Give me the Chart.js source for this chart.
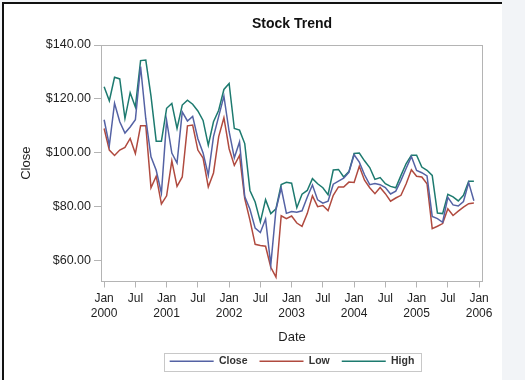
<!DOCTYPE html>
<html>
<head>
<meta charset="utf-8">
<script src="https://cdn.jsdelivr.net/npm/chart.js@4"></script>
<style>
  body { margin: 0; background: #f2f4f7; }
  #wrap { position: relative; width: 525px; height: 380px; overflow: hidden; }
  #panel { position: absolute; left: 2px; top: 2px; width: 498px; height: 376px; background: #fff;
           border-left: 2px solid #111; border-top: 2px solid #111; }
  #chart { position: absolute; left: 0; top: 0; }
</style>
</head>
<body>
<div id="wrap">
  <div id="panel"></div>
  <canvas id="chart" width="525" height="380"></canvas>
</div>
<script>
// Monthly stock prices, Jan 2000 - Dec 2005
const dates = [
  '2000-01','2000-02','2000-03','2000-04','2000-05','2000-06','2000-07','2000-08','2000-09','2000-10','2000-11','2000-12',
  '2001-01','2001-02','2001-03','2001-04','2001-05','2001-06','2001-07','2001-08','2001-09','2001-10','2001-11','2001-12',
  '2002-01','2002-02','2002-03','2002-04','2002-05','2002-06','2002-07','2002-08','2002-09','2002-10','2002-11','2002-12',
  '2003-01','2003-02','2003-03','2003-04','2003-05','2003-06','2003-07','2003-08','2003-09','2003-10','2003-11','2003-12',
  '2004-01','2004-02','2004-03','2004-04','2004-05','2004-06','2004-07','2004-08','2004-09','2004-10','2004-11','2004-12',
  '2005-01','2005-02','2005-03','2005-04','2005-05','2005-06','2005-07','2005-08','2005-09','2005-10','2005-11','2005-12'
];

const closePrices = [
  112.25, 102.75, 118.38, 111.50, 107.31, 109.56, 112.25, 132.00, 112.63, 98.50, 93.50, 85.00,
  112.00, 99.90, 96.18, 115.14, 111.80, 113.50, 105.21, 99.95, 91.72, 106.00, 113.50, 121.00,
  107.89, 98.12, 104.00, 83.76, 79.00, 72.00, 70.40, 75.38, 58.31, 78.94, 86.92, 77.50,
  78.20, 77.95, 78.43, 83.50, 88.03, 82.50, 81.25, 82.01, 88.33, 89.48, 90.54, 92.68,
  99.23, 96.50, 91.84, 88.17, 88.59, 88.15, 87.07, 84.69, 85.74, 89.75, 94.24, 98.58,
  93.42, 92.58, 91.38, 76.38, 75.55, 74.20, 83.46, 80.62, 80.22, 81.88, 88.90, 82.20
];

const lowPrices = [
  109.0, 101.0, 99.0, 101.0, 102.0, 105.3, 99.7, 110.0, 110.0, 87.0, 91.3, 81.0,
  84.0, 97.0, 87.5, 91.0, 110.0, 110.3, 101.0, 98.0, 87.3, 92.5, 106.0, 113.0,
  101.5, 95.3, 99.0, 83.0, 75.0, 66.0, 65.6, 65.3, 57.5, 53.8, 76.6, 75.5,
  76.5, 73.9, 72.7, 77.4, 84.0, 80.0, 80.4, 78.5, 84.2, 87.3, 87.3, 89.1,
  89.0, 95.0, 89.8, 87.0, 84.8, 87.1, 84.8, 82.0, 83.2, 84.2, 88.5, 93.7,
  91.3, 91.0, 88.5, 71.8, 72.7, 73.7, 79.2, 76.7, 78.3, 79.8, 81.1, 81.3
];

const highPrices = [
  124.5, 119.3, 128.0, 127.4, 112.7, 122.3, 117.0, 134.2, 134.4, 121.0, 104.3, 104.3,
  116.5, 118.3, 109.0, 117.7, 119.5, 118.0, 115.5, 112.0, 102.8, 111.5, 115.8, 123.5,
  125.7, 109.0, 108.4, 103.4, 86.0, 81.7, 74.3, 82.6, 77.4, 79.2, 88.2, 89.0,
  88.7, 79.6, 84.6, 86.0, 90.4, 88.5, 87.0, 84.4, 93.6, 93.8, 91.0, 93.0,
  99.7, 99.9, 97.0, 94.5, 90.1, 90.8, 88.5, 87.5, 87.0, 91.6, 96.0, 99.1,
  99.1, 94.7, 93.5, 91.6, 77.6, 77.4, 84.6, 83.6, 82.1, 84.2, 89.4, 89.4
];

// axis ticks: one every six months on x, every $20 on y
const xTickLabels = [
  ['Jan', '2000'], ['Jul'], ['Jan', '2001'], ['Jul'], ['Jan', '2002'], ['Jul'], ['Jan', '2003'],
  ['Jul'], ['Jan', '2004'], ['Jul'], ['Jan', '2005'], ['Jul'], ['Jan', '2006']
];
const yTicks = [60, 80, 100, 120, 140];

const FONT = "'Liberation Sans', Arial, sans-serif";
const FRAME = '#b4b4b4';
const TEXT = '#1e1e1e';

// month offset from Jan 2000
function monthIndex(d) {
    const [y, m] = d.split('-').map(Number);
    return (y - 2000) * 12 + (m - 1);
}
const toPoints = vals => vals.map((v, i) => ({ x: monthIndex(dates[i]), y: v }));

// plot frame and legend border
const framePlugin = {
    id: 'frame',
    afterDraw(chart) {
        const { ctx, chartArea: a } = chart;
        ctx.save();
        ctx.strokeStyle = FRAME;
        ctx.lineWidth = 1;
        ctx.strokeRect(Math.round(a.left) + 0.5, Math.round(a.top) + 0.5,
            Math.round(a.right - a.left) - 1, Math.round(a.bottom - a.top) - 1);

        const boxes = chart.legend.legendHitBoxes;
        if (boxes && boxes.length) {
            const l = Math.min(...boxes.map(b => b.left)) - 6;
            const r = Math.max(...boxes.map(b => b.left + b.width)) + 6;
            const t = boxes[0].top - 3.5;
            const h = boxes[0].height + 7;
            ctx.strokeStyle = '#c8c8c8';
            ctx.strokeRect(Math.round(l) + 0.5, Math.round(t) + 0.5, Math.round(r - l), Math.round(h));
        }
        ctx.restore();
    }
};

Chart.defaults.font.family = FONT;
Chart.defaults.color = TEXT;

new Chart(document.getElementById('chart'), {
    type: 'line',
    data: {
        datasets: [
            { label: 'Close', data: toPoints(closePrices), borderColor: '#5462a4' },
            { label: 'Low', data: toPoints(lowPrices), borderColor: '#b04a3f' },
            { label: 'High', data: toPoints(highPrices), borderColor: '#1d7a6f' }
        ].map(ds => ({ ...ds, borderWidth: 1.5, pointRadius: 0, tension: 0, fill: false, backgroundColor: ds.borderColor }))
    },
    options: {
        responsive: false,
        animation: false,
        layout: { padding: { left: 0, right: 42, top: 0, bottom: 3.5 } },
        scales: {
            x: {
                type: 'linear',
                min: -0.6,
                max: 72.75,
                afterBuildTicks: s => { s.ticks = xTickLabels.map((_, i) => ({ value: i * 6 })); },
                afterFit: s => { s.height = 62.5; },
                ticks: {
                    autoSkip: false, maxRotation: 0, padding: 3, color: TEXT,
                    font: { size: 12, lineHeight: 1.3 },
                    callback: (v, i) => xTickLabels[i]
                },
                grid: { drawOnChartArea: false, tickLength: 6, color: FRAME },
                border: { display: false },
                title: { display: true, text: 'Date', color: TEXT, font: { size: 13, lineHeight: 1 }, padding: { top: 0, bottom: 0 } }
            },
            y: {
                min: 52.2,
                max: 140,
                afterBuildTicks: s => { s.ticks = yTicks.map(v => ({ value: v })); },
                afterFit: s => { s.width = 101; },
                ticks: { padding: 3, color: TEXT, font: { size: 12.5 }, callback: v => '$' + v.toFixed(2) },
                grid: { drawOnChartArea: false, tickLength: 7, color: FRAME },
                border: { display: false },
                title: { display: true, text: 'Close', color: TEXT, font: { size: 13 }, padding: { top: 19, bottom: 0 } }
            }
        },
        plugins: {
            title: {
                display: true,
                text: 'Stock Trend',
                fullSize: false,
                color: '#111',
                font: { size: 14, weight: 'bold', lineHeight: 1.2 },
                padding: { top: 16.2, bottom: 12 }
            },
            legend: {
                position: 'bottom',
                fullSize: false,
                labels: {
                    usePointStyle: true,
                    pointStyle: 'line',
                    pointStyleWidth: 44,
                    padding: 12,
                    color: '#333',
                    font: { size: 10.5, weight: 'bold' }
                }
            },
            tooltip: { enabled: false }
        }
    },
    plugins: [framePlugin]
});
</script>
</body>
</html>
